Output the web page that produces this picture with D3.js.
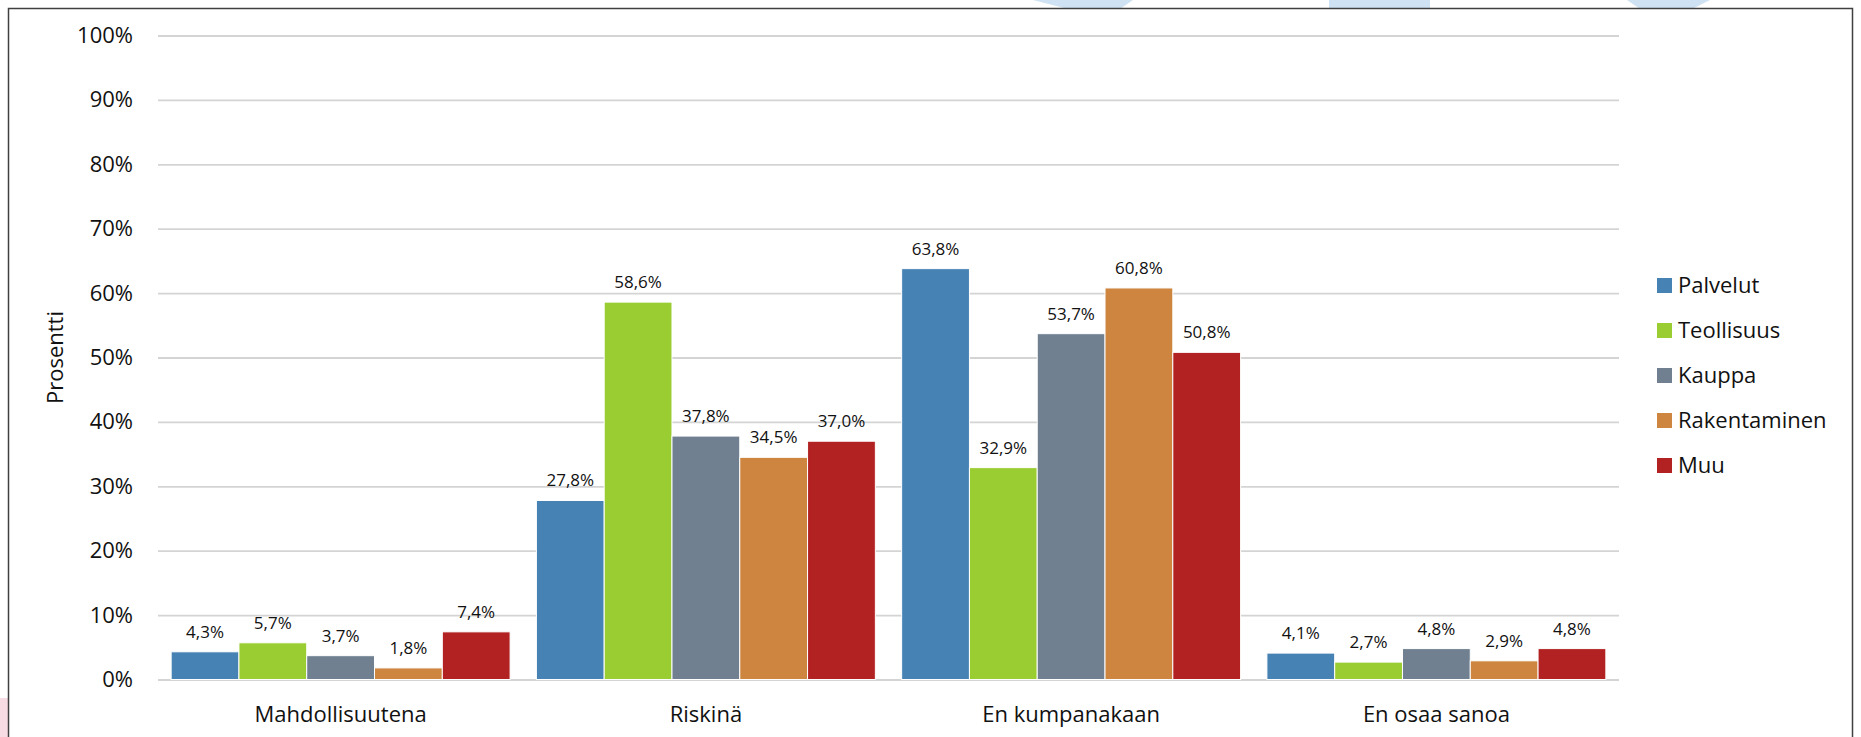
<!DOCTYPE html>
<html>
<head>
<meta charset="utf-8">
<script src="https://cdn.jsdelivr.net/npm/d3@7"></script>
<style>
  body { margin: 0; background: #fff; }
  svg { display: block; font-family: "Open Sans", sans-serif; }
</style>
</head>
<body>
<div id="chart"></div>
<script>
const categories = ["Mahdollisuutena", "Riskinä", "En kumpanakaan", "En osaa sanoa"];
const seriesNames = ["Palvelut", "Teollisuus", "Kauppa", "Rakentaminen", "Muu"];
const colors = ["#4682b4", "#9acd32", "#708090", "#cd853f", "#b22222"];

// percentages per series, in category order
const palvelut = [4.3, 27.8, 63.8, 4.1];
const teollisuus = [5.7, 58.6, 32.9, 2.7];
const kauppa = [3.7, 37.8, 53.7, 4.8];
const rakentaminen = [1.8, 34.5, 60.8, 2.9];
const muu = [7.4, 37.0, 50.8, 4.8];
const yTicks = [0, 10, 20, 30, 40, 50, 60, 70, 80, 90, 100];

const values = [palvelut, teollisuus, kauppa, rakentaminen, muu];

const width = 1861;
const height = 737;
const plot = { left: 158, right: 1619, top: 35.5, bottom: 679.5 };

const fi = d3.formatLocale({ decimal: ",", thousands: " ", grouping: [3], currency: ["", "€"] });
const fmt = fi.format(".1f");

const svg = d3.select("#chart")
  .append("svg")
  .attr("width", width)
  .attr("height", height);

svg.append("rect").attr("width", width).attr("height", height).attr("fill", "#fff");

// faint shapes peeking out round the frame
const deco = [
  [[1033, 0], [1133, 0], [1120, 9], [1068, 9]],
  [[1329, 0], [1430, 0], [1430, 9], [1329, 9]],
  [[1627, 0], [1710, 0], [1692, 9], [1640, 9]]
];
svg.selectAll("polygon.deco")
  .data(deco)
  .enter()
  .append("polygon")
  .attr("class", "deco")
  .attr("points", d => d.map(p => p.join(",")).join(" "))
  .attr("fill", "#cfe2f3");
svg.append("rect")
  .attr("x", 0).attr("y", 698).attr("width", 8).attr("height", 40)
  .attr("fill", "#f7dde3");

// frame
svg.append("rect")
  .attr("x", 8.5).attr("y", 8.5)
  .attr("width", 1844).attr("height", 800)
  .attr("fill", "#fff")
  .attr("stroke", "#404040")
  .attr("stroke-width", 1.5);

const x0 = d3.scaleBand()
  .domain(categories)
  .range([plot.left, plot.right])
  .paddingInner(0.072)
  .paddingOuter(0.036);

const x1 = d3.scaleBand()
  .domain(seriesNames)
  .range([0, x0.bandwidth()]);

const y = d3.scaleLinear()
  .domain([0, 100])
  .range([plot.bottom, plot.top]);

const color = d3.scaleOrdinal().domain(seriesNames).range(colors);

// y axis with gridlines
const yAxis = svg.append("g")
  .attr("transform", `translate(${plot.left},0)`)
  .call(d3.axisLeft(y)
    .tickValues(yTicks)
    .tickSize(-(plot.right - plot.left))
    .tickPadding(25)
    .tickFormat(d => d + "%"));
yAxis.select(".domain").remove();
yAxis.selectAll(".tick line")
  .attr("stroke", "#d4d4d4")
  .attr("stroke-width", 1.8);
yAxis.selectAll(".tick text")
  .style("font-family", "Open Sans")
  .style("font-size", "22px")
  .attr("fill", "#111");

// x axis labels
const xAxis = svg.append("g")
  .attr("transform", `translate(0,${plot.bottom})`)
  .call(d3.axisBottom(x0).tickSize(0).tickPadding(27));
xAxis.select(".domain").remove();
xAxis.selectAll(".tick text")
  .style("font-family", "Open Sans")
  .style("font-size", "22px")
  .attr("fill", "#111");

// bars
const rows = categories.map((c, ci) => ({
  category: c,
  items: seriesNames.map((s, si) => ({ series: s, value: values[si][ci] }))
}));

const groups = svg.selectAll("g.cat")
  .data(rows)
  .enter()
  .append("g")
  .attr("class", "cat")
  .attr("transform", d => `translate(${x0(d.category)},0)`);

groups.selectAll("rect")
  .data(d => d.items)
  .enter()
  .append("rect")
  .attr("x", d => x1(d.series))
  .attr("y", d => y(d.value))
  .attr("width", x1.bandwidth())
  .attr("height", d => y(0) - y(d.value))
  .attr("fill", d => color(d.series))
  .attr("stroke", "#fff")
  .attr("stroke-width", 1);

groups.selectAll("text.val")
  .data(d => d.items)
  .enter()
  .append("text")
  .attr("class", "val")
  .attr("x", d => x1(d.series) + x1.bandwidth() / 2)
  .attr("y", d => y(d.value) - 14)
  .attr("text-anchor", "middle")
  .style("font-size", "17px")
  .attr("fill", "#111")
  .text(d => fmt(d.value) + "%");

// y axis title
svg.append("text")
  .attr("transform", `translate(63,${(plot.top + plot.bottom) / 2}) rotate(-90)`)
  .attr("text-anchor", "middle")
  .style("font-size", "22px")
  .attr("fill", "#111")
  .text("Prosentti");

// legend
const legend = svg.selectAll("g.legend")
  .data(seriesNames)
  .enter()
  .append("g")
  .attr("class", "legend")
  .attr("transform", (d, i) => `translate(1657,${278 + i * 45})`);

legend.append("rect")
  .attr("width", 15)
  .attr("height", 15)
  .attr("fill", d => color(d));

legend.append("text")
  .attr("x", 21)
  .attr("y", 15)
  .style("font-size", "22px")
  .attr("fill", "#111")
  .text(d => d);
</script>
</body>
</html>
